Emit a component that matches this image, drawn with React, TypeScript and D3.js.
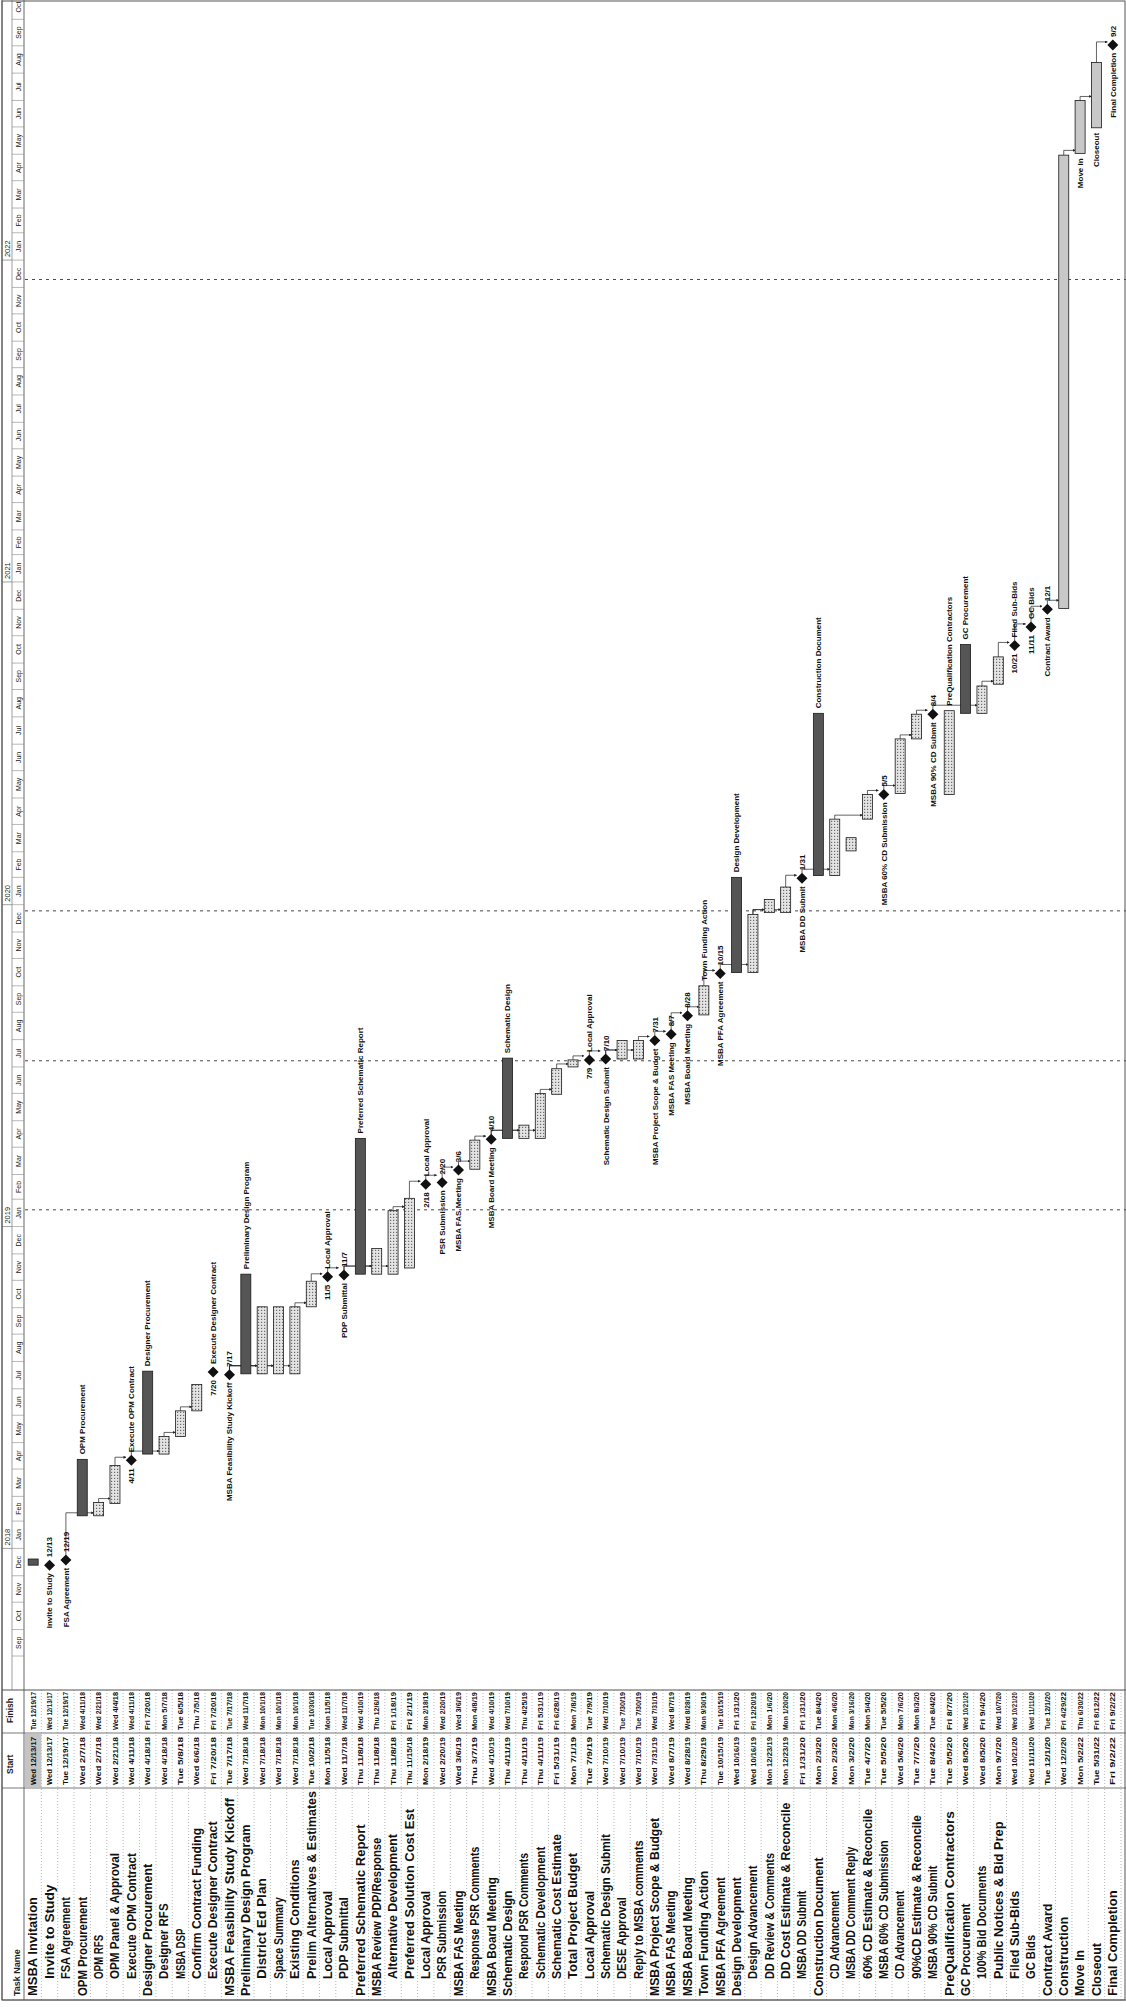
import React from "react";
import * as d3 from "d3";

// page is a scanned landscape Gantt print, turned a quarter turn
const W = 1126;
const H = 2007;

const taskNames = [
  "MSBA Invitation", "Invite to Study", "FSA Agreement", "OPM Procurement", "OPM RFS",
  "OPM Panel & Approval", "Execute OPM Contract", "Designer Procurement", "Designer RFS", "MSBA DSP",
  "Confirm Contract Funding", "Execute Designer Contract", "MSBA Feasibility Study Kickoff",
  "Preliminary Design Program", "District Ed Plan", "Space Summary", "Existing Conditions",
  "Prelim Alternatives & Estimates", "Local Approval", "PDP Submittal", "Preferred Schematic Report",
  "MSBA Review PDP/Response", "Alternative Development", "Preferred Solution Cost Est", "Local Approval",
  "PSR Submission", "MSBA FAS Meeting", "Response PSR Comments", "MSBA Board Meeting", "Schematic Design",
  "Respond PSR Comments", "Schematic Development", "Schematic Cost Estimate", "Total Project Budget",
  "Local Approval", "Schematic Design Submit", "DESE Approval", "Reply to MSBA comments",
  "MSBA Project Scope & Budget", "MSBA FAS Meeting", "MSBA Board Meeting", "Town Funding Action",
  "MSBA PFA Agreement", "Design Development", "Design Advancement", "DD Review & Comments",
  "DD Cost Estimate & Reconcile", "MSBA DD Submit", "Construction Document", "CD Advancement",
  "MSBA DD Comment Reply", "60% CD Estimate & Reconcile", "MSBA 60% CD Submission", "CD Advancement",
  "90%CD Estimate & Reconcile", "MSBA 90% CD Submit", "PreQualification Contractors", "GC Procurement",
  "100% Bid Documents", "Public Notices & Bid Prep", "Filed Sub-Bids", "GC Bids", "Contract Award",
  "Construction", "Move In", "Closeout", "Final Completion",
];

const startDates = [
  "2017-12-13", "2017-12-13", "2017-12-19", "2018-02-07", "2018-02-07", "2018-02-21", "2018-04-11",
  "2018-04-18", "2018-04-18", "2018-05-08", "2018-06-06", "2018-07-20", "2018-07-17", "2018-07-18",
  "2018-07-18", "2018-07-18", "2018-07-18", "2018-10-02", "2018-11-05", "2018-11-07", "2018-11-08",
  "2018-11-08", "2018-11-08", "2018-11-15", "2019-02-18", "2019-02-20", "2019-03-06", "2019-03-07",
  "2019-04-10", "2019-04-11", "2019-04-11", "2019-04-11", "2019-05-31", "2019-07-01", "2019-07-09",
  "2019-07-10", "2019-07-10", "2019-07-10", "2019-07-31", "2019-08-07", "2019-08-28", "2019-08-29",
  "2019-10-15", "2019-10-16", "2019-10-16", "2019-12-23", "2019-12-23", "2020-01-31", "2020-02-03",
  "2020-02-03", "2020-03-02", "2020-04-07", "2020-05-05", "2020-05-06", "2020-07-07", "2020-08-04",
  "2020-05-05", "2020-08-05", "2020-08-05", "2020-09-07", "2020-10-21", "2020-11-11", "2020-12-01",
  "2020-12-02", "2022-05-02", "2022-05-31", "2022-09-02",
];

const finishDates = [
  "2017-12-19", "2017-12-13", "2017-12-19", "2018-04-11", "2018-02-21", "2018-04-04", "2018-04-11",
  "2018-07-20", "2018-05-07", "2018-06-05", "2018-07-05", "2018-07-20", "2018-07-17", "2018-11-07",
  "2018-10-01", "2018-10-01", "2018-10-01", "2018-10-30", "2018-11-05", "2018-11-07", "2019-04-10",
  "2018-12-06", "2019-01-18", "2019-02-01", "2019-02-18", "2019-02-20", "2019-03-06", "2019-04-08",
  "2019-04-10", "2019-07-10", "2019-04-25", "2019-05-31", "2019-06-28", "2019-07-08", "2019-07-09",
  "2019-07-10", "2019-07-30", "2019-07-30", "2019-07-31", "2019-08-07", "2019-08-28", "2019-09-30",
  "2019-10-15", "2020-01-31", "2019-12-20", "2020-01-06", "2020-01-20", "2020-01-31", "2020-08-04",
  "2020-04-06", "2020-03-16", "2020-05-04", "2020-05-05", "2020-07-06", "2020-08-03", "2020-08-04",
  "2020-08-07", "2020-10-21", "2020-09-04", "2020-10-07", "2020-10-21", "2020-11-11", "2020-12-01",
  "2022-04-29", "2022-06-30", "2022-08-12", "2022-09-02",
];

// S = summary bar, T = task bar, M = milestone
const kinds = "SMMSTTMSTTTMMSTTTTMMSTTTMMMTMSTTTTMMTTMMMTMSTTTMSTTTMTTMTSTTMMMTTTM".split("");

// outline level in the Task Name column
const levels = [
  0, 1, 1, 0, 1, 1, 1, 0, 1, 1, 1, 1, 0, 0, 1, 1, 1, 1, 1, 1, 0, 0, 1, 1, 1, 1, 0, 1, 0, 0, 1, 1, 1, 1,
  1, 1, 1, 1, 0, 0, 0, 0, 0, 0, 1, 1, 1, 1, 0, 1, 1, 1, 1, 1, 1, 1, 0, 0, 1, 1, 1, 1, 0, 0, 0, 0, 0,
];

// finish-to-start links [from, to]
const links = [
  [2, 4], [4, 5], [5, 6], [6, 8], [8, 9], [9, 10], [12, 14], [12, 15], [12, 16], [16, 17], [17, 18],
  [18, 19], [19, 21], [19, 22], [22, 23], [23, 24], [24, 25], [25, 26], [26, 27], [27, 28], [28, 30],
  [28, 31], [31, 32], [32, 33], [33, 34], [34, 35], [35, 36], [35, 37], [37, 38], [38, 39], [39, 40],
  [40, 41], [41, 42], [42, 44], [44, 45], [44, 46], [46, 47], [47, 49], [49, 51], [51, 52], [52, 53],
  [53, 54], [54, 55], [55, 58], [58, 59], [59, 60], [60, 61], [61, 62], [62, 63], [63, 64], [64, 65],
  [65, 66],
];

const pageBreaks = ["2019-01-20", "2019-07-08", "2019-12-25", "2021-12-10"];

// rows whose chart name sits after the bar / diamond instead of before it
const nameAfter = new Set([3, 6, 7, 11, 13, 18, 20, 24, 29, 34, 41, 43, 48, 56, 57, 60, 61]);
const nameBefore = new Set([64, 65]);

const parse = d3.timeParse("%Y-%m-%d");
const fmtCell = d3.timeFormat("%a %-m/%-d/%y");
const fmtShort = d3.timeFormat("%-m/%-d");
const fmtMonth = d3.timeFormat("%b");
const fmtYear = d3.timeFormat("%Y");

const FONT = "'Liberation Sans Narrow', 'Liberation Sans', Arial, sans-serif";

export default function App() {
  const rows = taskNames.map((name, i) => ({
    i,
    name,
    start: parse(startDates[i]) as Date,
    finish: parse(finishDates[i]) as Date,
    kind: kinds[i],
    level: levels[i],
  }));

  // landscape frame: u runs along time (page bottom -> top), v runs across rows (page left -> right)
  const tableEnd = 317;
  const x = d3
    .scaleTime()
    .domain([new Date(2017, 8, 1), new Date(2022, 10, 1)])
    .range([351, 2015]);
  const y = d3
    .scaleBand<number>()
    .domain(d3.range(rows.length))
    .range([25, 1121]);
  const rc = (i: number) => (y(i) as number) + y.bandwidth() / 2;
  const barH = 10;
  const dayEnd = (d: Date) => x(d3.timeDay.offset(d, 1));

  const months = d3.timeMonth.range(new Date(2017, 8, 1), new Date(2022, 10, 1));
  const years = d3.timeYear.range(new Date(2018, 0, 1), new Date(2023, 0, 1));

  const cols = [7, 219, 274, tableEnd];

  // table name text is squeezed to the column, as the narrow print font does
  const nameWidth = (name: string, level: number) => {
    const full = name.length * (level === 0 ? 6.6 : 6.3);
    return Math.min(full, cols[1] - (level === 0 ? 14 : 31));
  };

  return (
    <svg
      width={W}
      height={H}
      style={{ position: "absolute", left: 0, top: 0, background: "#fff" }}
      fontFamily={FONT}
    >
      <defs>
        <pattern id="dots" width="3" height="3" patternUnits="userSpaceOnUse">
          <rect width="3" height="3" fill="#e4e4e4" />
          <rect width="1.2" height="1.2" fill="#6a6a6a" />
        </pattern>
        <clipPath id="chartClip">
          <rect x={tableEnd} y={0} width={H - tableEnd} height={W} />
        </clipPath>
        <marker id="arr" viewBox="0 0 6 6" refX="5" refY="3" markerWidth="4" markerHeight="4" orient="auto">
          <path d="M0,0 L6,3 L0,6 Z" fill="#222" />
        </marker>
      </defs>
      <rect width={W} height={H} fill="#fff" />
      <g transform={`translate(0,${H}) rotate(-90)`}>
        {/* table row separators */}
        {rows.map((r) => (
          <line
            key={"sep" + r.i}
            x1={cols[0]}
            x2={tableEnd}
            y1={(y(r.i) as number) + y.bandwidth()}
            y2={(y(r.i) as number) + y.bandwidth()}
            stroke="#888"
            strokeWidth={0.6}
            strokeDasharray="1,2"
          />
        ))}
        {/* selected cell */}
        <rect x={cols[1] + 1} y={y(0)} width={cols[2] - cols[1] - 2} height={y.bandwidth()} fill="#c4c4c4" />

        {/* table columns and header */}
        {cols.map((c, k) => (
          <line key={"col" + k} x1={c} x2={c} y1={2} y2={W} stroke="#555" strokeWidth={k === 3 ? 1.2 : 0.8} />
        ))}
        <line x1={cols[0]} x2={H} y1={24} y2={24} stroke="#555" strokeWidth={0.9} />
        <line x1={cols[0]} x2={H} y1={2} y2={2} stroke="#555" strokeWidth={0.9} />
        <line x1={tableEnd} x2={H} y1={12} y2={12} stroke="#777" strokeWidth={0.7} />
        <text x={11} y={20} fontSize={9} fontWeight="bold" fill="#222">Task Name</text>
        <text x={cols[1] + 14} y={13} fontSize={8.5} fontWeight="bold" fill="#222">Start</text>
        <text x={cols[2] + 10} y={13} fontSize={8.5} fontWeight="bold" fill="#222">Finish</text>

        {/* table cells */}
        {rows.map((r) => (
          <g key={"cell" + r.i} fontWeight="bold" fill="#111">
            <text
              x={r.level === 0 ? 11 : 28}
              y={rc(r.i) + 4.3}
              fontSize={r.level === 0 ? 12.5 : 12}
              textLength={nameWidth(r.name, r.level)}
              lengthAdjust="spacingAndGlyphs"
            >
              {r.name}
            </text>
            <text x={cols[1] + 3} y={rc(r.i) + 2.6} fontSize={7.2} textLength={48} lengthAdjust="spacingAndGlyphs">
              {fmtCell(r.start)}
            </text>
            <text x={cols[2] + 3} y={rc(r.i) + 2.6} fontSize={7.2} textLength={38} lengthAdjust="spacingAndGlyphs">
              {fmtCell(r.finish)}
            </text>
          </g>
        ))}

        <g clipPath="url(#chartClip)">
          {/* timescale */}
          {years.map((d) => (
            <g key={"yr" + d.getFullYear()}>
              <line x1={x(d)} x2={x(d)} y1={2} y2={12} stroke="#777" strokeWidth={0.7} />
              <text x={x(d) + 3} y={10} fontSize={7.5} fill="#222">{fmtYear(d)}</text>
            </g>
          ))}
          {months.map((m) => {
            const u0 = x(m);
            const u1 = x(d3.timeMonth.offset(m, 1));
            return (
              <g key={"mo" + m.getTime()}>
                <line x1={u0} x2={u0} y1={12} y2={24} stroke="#888" strokeWidth={0.6} />
                <text x={Math.min((u0 + u1) / 2, H - 7)} y={21} fontSize={7} textAnchor="middle" fill="#222">
                  {fmtMonth(m)}
                </text>
              </g>
            );
          })}

          {/* page breaks */}
          {pageBreaks.map((p) => {
            const u = x(parse(p) as Date);
            return (
              <line key={p} x1={u} x2={u} y1={25} y2={W} stroke="#333" strokeWidth={0.9} strokeDasharray="3,4" />
            );
          })}

          {/* links */}
          {links.map(([a, b]) => {
            const ra = rows[a];
            const rb = rows[b];
            const ua = ra.kind === "M" ? x(ra.finish) + 5 : dayEnd(ra.finish);
            const ub = Math.max(x(rb.start) + 3, ua + 4);
            const vb = rc(b) - (rb.kind === "M" ? 5.5 : barH / 2);
            return (
              <path
                key={"ln" + a + "-" + b}
                d={`M${ua},${rc(a)} H${ub} V${vb}`}
                fill="none"
                stroke="#222"
                strokeWidth={0.7}
                markerEnd="url(#arr)"
              />
            );
          })}

          {/* bars */}
          {rows.map((r) => {
            const c = rc(r.i);
            if (r.kind === "M") {
              const u = x(r.start);
              const s = 5.5;
              const after = nameAfter.has(r.i);
              return (
                <g key={"bar" + r.i} fontSize={8} fontWeight="bold" fill="#111">
                  <path d={`M${u},${c - s} L${u + s},${c} L${u},${c + s} L${u - s},${c} Z`} fill="#111" />
                  <text x={after ? u + 8 : u - 8} y={c + 2.8} textAnchor={after ? "start" : "end"}>
                    {r.name}
                  </text>
                  <text x={after ? u - 8 : u + 8} y={c + 2.8} textAnchor={after ? "end" : "start"}>
                    {fmtShort(r.start)}
                  </text>
                </g>
              );
            }
            const u0 = x(r.start);
            const u1 = dayEnd(r.finish);
            return (
              <g key={"bar" + r.i} fontSize={8} fontWeight="bold" fill="#111">
                <rect
                  x={u0}
                  y={c - barH / 2}
                  width={Math.max(2, u1 - u0)}
                  height={barH}
                  fill={r.kind === "S" ? "#555" : r.i >= 63 ? "#c8c8c8" : "url(#dots)"}
                  stroke="#1a1a1a"
                  strokeWidth={0.8}
                />
                {nameAfter.has(r.i) && (
                  <text x={u1 + 5} y={c + 2.8}>{r.name}</text>
                )}
                {nameBefore.has(r.i) && (
                  <text x={u0 - 5} y={c + 2.8} textAnchor="end">{r.name}</text>
                )}
              </g>
            );
          })}
        </g>
        <rect x={cols[0]} y={2} width={H - cols[0] - 1} height={W - 3} fill="none" stroke="#555" strokeWidth={1} />
      </g>
    </svg>
  );
}
